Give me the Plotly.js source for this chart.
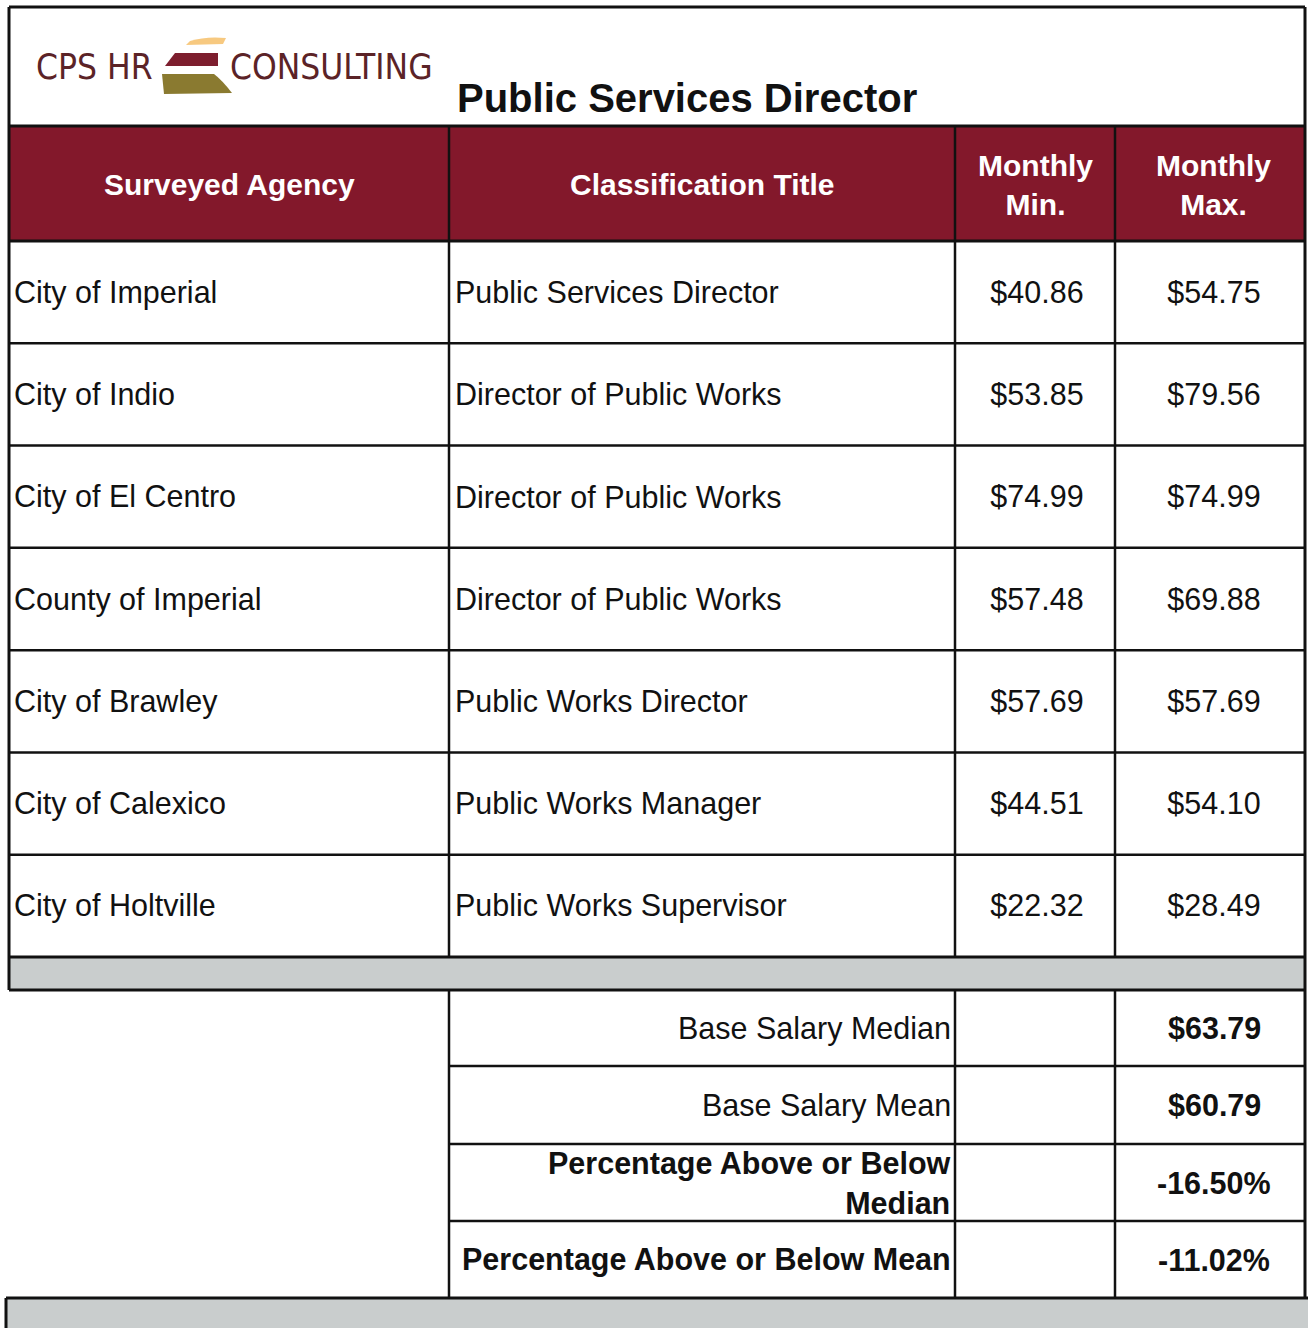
<!DOCTYPE html>
<html>
<head>
<meta charset="utf-8">
<script src="https://cdn.plot.ly/plotly-3.0.1.min.js"></script>
<style>
  html, body { margin: 0; padding: 0; background: #ffffff; }
  #chart { width: 1308px; height: 1328px; }
</style>
</head>
<body>
<div id="chart"></div>
<script>
// ---------- data ----------
const pageTitle = "Public Services Director";
const headers = ["Surveyed Agency", "Classification Title", "Monthly<br>Min.", "Monthly<br>Max."];
const agencies = ["City of Imperial", "City of Indio", "City of El Centro", "County of Imperial",
                  "City of Brawley", "City of Calexico", "City of Holtville"];
const titles = ["Public Services Director", "Director of Public Works", "Director of Public Works",
                "Director of Public Works", "Public Works Director", "Public Works Manager",
                "Public Works Supervisor"];
const monthlyMin = [40.86, 53.85, 74.99, 57.48, 57.69, 44.51, 22.32];
const monthlyMax = [54.75, 79.56, 74.99, 69.88, 57.69, 54.10, 28.49];
const summaryLabels = ["Base Salary Median", "Base Salary Mean",
                       "Percentage Above or Below<br>Median", "Percentage Above or Below Mean"];
const summaryValues = ["$63.79", "$60.79", "-16.50%", "-11.02%"];
const summaryLabelBold = [false, false, true, true];

// ---------- layout geometry (page coordinates on hidden axes) ----------
const W = 1308, H = 1328;
const colX = [9, 449, 955, 1115, 1305];
const headTop = 126, headBot = 241;
const bodyBot = 957;
const bandBot = 990;
const sumEdges = [990, 1066, 1144, 1221, 1298];
const rowH = (bodyBot - headBot) / agencies.length;

const FONT = "Liberation Sans, Arial, Helvetica, sans-serif";
const LOGOFONT = "Liberation Sans Narrow, DejaVu Sans Condensed, sans-serif";
const INK = "#111111";
const MAROON = "#83182B";
const GREY = "#C9CDCD";
const LOGOINK = "#5B2327";

const shapes = [];
function line(x0, y0, x1, y1, w) {
  shapes.push({type: "line", xref: "x", yref: "y", x0, y0, x1, y1,
               line: {color: INK, width: w || 2.5}, layer: "above"});
}
function rect(x0, y0, x1, y1, fill) {
  shapes.push({type: "rect", xref: "x", yref: "y", x0, y0, x1, y1,
               fillcolor: fill, line: {width: 0}, layer: "below"});
}

// fills
rect(colX[0], headTop, colX[4], headBot, MAROON);
rect(colX[0], bodyBot, colX[4], bandBot, GREY);
rect(6, sumEdges[4], W, H, GREY);

// logo stripes
shapes.push({type: "path", xref: "x", yref: "y", path: "M 175 53 L 218 53 L 218 66 L 165 66 Z",
             fillcolor: "#7D1E2E", line: {width: 0}});
shapes.push({type: "path", xref: "x", yref: "y",
             path: "M 162 74 L 214 74 Q 222 80 232 93 L 164 94 Z",
             fillcolor: "#8A7A30", line: {width: 0}});
shapes.push({type: "path", xref: "x", yref: "y",
             path: "M 190 41 Q 206 36 226 38 L 223 44 L 186 45 Z",
             fillcolor: "#F6C06A", line: {width: 0}, opacity: 0.85});

// frame lines
line(colX[0], 7, colX[4], 7, 3);
line(colX[0], headTop, colX[4], headTop, 3);
line(colX[0], headBot, colX[4], headBot, 3);
for (let i = 1; i < agencies.length; i++) {
  const y = headBot + i * rowH;
  line(colX[0], y, colX[4], y, 2.5);
}
line(colX[0], bodyBot, colX[4], bodyBot, 3);
line(colX[0], bandBot, colX[4], bandBot, 3);
for (let i = 1; i < summaryLabels.length; i++) {
  line(colX[1], sumEdges[i], colX[4], sumEdges[i], 2.5);
}
line(6, sumEdges[4], W, sumEdges[4], 3);
line(6, sumEdges[4], 6, H, 3);
line(colX[0], 7, colX[0], bandBot, 3);
line(colX[4], 7, colX[4], sumEdges[4], 3);
for (let c = 1; c <= 3; c++) {
  line(colX[c], headTop, colX[c], bodyBot, 2.5);
  line(colX[c], bandBot, colX[c], sumEdges[4], 2.5);
}

// ---------- text ----------
const annotations = [];
function txt(x, y, text, opts) {
  annotations.push(Object.assign({
    xref: "x", yref: "y", x, y, text, showarrow: false,
    xanchor: "left", yanchor: "middle",
    font: {family: FONT, size: 30.5, color: INK}
  }, opts || {}));
}

// logo
txt(94, 67, "CPS HR", {xanchor: "center", font: {family: LOGOFONT, size: 35, color: LOGOINK}});
txt(331, 67, "CONSULTING", {xanchor: "center", font: {family: LOGOFONT, size: 35, color: LOGOINK}});

// title
txt(455, 98, "<b>" + pageTitle + "</b>", {font: {family: FONT, size: 40, color: INK}});

// headers
headers.forEach((h, i) => {
  txt((colX[i] + colX[i + 1]) / 2 + (i === 3 ? 3 : 0), (headTop + headBot) / 2 + 1, "<b>" + h + "</b>",
      {xanchor: "center", align: "center", font: {family: FONT, size: 30, color: "#ffffff"}});
});

// body rows
agencies.forEach((a, i) => {
  const yc = headBot + (i + 0.5) * rowH;
  txt(colX[0] + 3, yc, a);
  txt(colX[1] + 4, yc, titles[i]);
});

// summary
summaryLabels.forEach((s, i) => {
  const yc = (sumEdges[i] + sumEdges[i + 1]) / 2;
  txt(colX[2] - 2, yc, summaryLabelBold[i] ? "<b>" + s + "</b>" : s,
      {xanchor: "right", align: "right"});
  txt((colX[3] + colX[4]) / 2 + 4, yc, "<b>" + summaryValues[i] + "</b>", {xanchor: "center"});
});

// numeric cells drawn as a text trace on the axes
const rowCenters = agencies.map((_, i) => headBot + (i + 0.5) * rowH + 3);
const traces = [
  {type: "scatter", mode: "text", x: rowCenters.map(() => (colX[2] + colX[3]) / 2 + 2), y: rowCenters,
   text: monthlyMin.map(v => "$" + v.toFixed(2)), textposition: "middle center",
   textfont: {family: FONT, size: 30.5, color: INK}, hoverinfo: "skip", showlegend: false},
  {type: "scatter", mode: "text", x: rowCenters.map(() => (colX[3] + colX[4]) / 2 + 4), y: rowCenters,
   text: monthlyMax.map(v => "$" + v.toFixed(2)), textposition: "middle center",
   textfont: {family: FONT, size: 30.5, color: INK}, hoverinfo: "skip", showlegend: false}
];

const layout = {
  width: W, height: H,
  margin: {l: 0, r: 0, t: 0, b: 0, pad: 0},
  paper_bgcolor: "#ffffff", plot_bgcolor: "#ffffff",
  xaxis: {range: [0, W], visible: false, fixedrange: true},
  yaxis: {range: [H, 0], visible: false, fixedrange: true},
  shapes, annotations, showlegend: false
};

Plotly.newPlot("chart", traces, layout, {staticPlot: true, displayModeBar: false});
</script>
</body>
</html>
